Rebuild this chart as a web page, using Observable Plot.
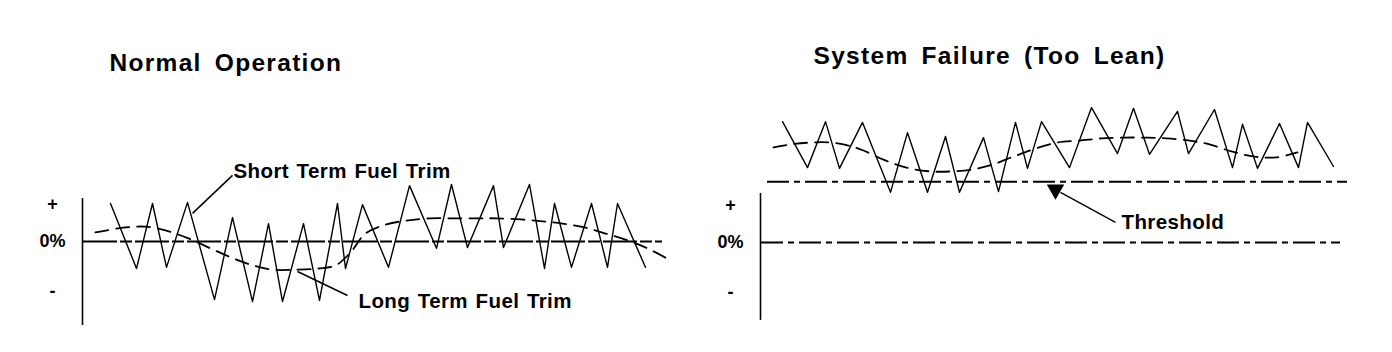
<!DOCTYPE html>
<html>
<head>
<meta charset="utf-8">
<script src="https://cdn.jsdelivr.net/npm/d3@7"></script>
<script src="https://cdn.jsdelivr.net/npm/@observablehq/plot@0.6"></script>
<style>
  body { margin: 0; background: #fff; }
  #wrap { display: flex; width: 1392px; height: 352px; overflow: hidden; }
</style>
</head>
<body>
<div id="wrap"></div>
<script>
// ---------- Data ----------
const titles = ["Normal Operation", "System Failure (Too Lean)"];

const yTickValuesLeft = [9.9, 0, -13.2];
const yTickValuesRight = [9.9, 0, -13.0];
const yTickLabels = ["+", "0%", "-"];

// Normal operation: short term fuel trim (sawtooth)
const normalShortTime = [28,54,70,84,105,132,150,170,186,200,221,237,255,263,280,306,327,354,369,385,411,421,447,462,472,489,509,525,535,563];
const normalShortValue = [10.0,-7.1,10.0,-6.8,10.3,-15.3,6.3,-15.8,4.7,-15.8,4.7,-15.5,10.0,-7.1,9.7,-6.8,14.7,-1.8,15.0,-1.6,14.7,-1.6,15.0,-7.1,10.0,-6.8,10.0,-6.8,10.0,-6.8];

// Normal operation: long term fuel trim (dashed)
const normalLongTime = [13,43,63,83,106,128,146,168,190,215,236,253,268,283,304,324,348,371,395,413,438,460,480,502,523,545,565,586];
const normalLongValue = [2.4,3.7,3.9,2.9,0.8,-1.8,-3.9,-6.1,-7.4,-7.4,-7.1,-6.3,-2.9,2.1,4.5,5.5,6.1,6.1,6.1,6.1,5.8,5.3,4.7,3.7,2.1,0.3,-1.8,-4.7];

// System failure: short term fuel trim
const failShortTime = [22,47,65,79,102,130,147,167,185,199,223,238,255,267,281,309,331,357,373,389,417,428,454,472,482,497,519,538,547,573];
const failShortValue = [31.8,19.7,31.8,19.5,31.6,13.2,28.9,13.2,27.9,13.2,27.6,13.4,31.6,19.5,31.8,19.7,35.5,23.4,35.3,23.2,34.5,23.4,35.0,19.7,31.1,19.5,31.3,19.7,31.6,20.0];

// System failure: long term fuel trim
const failLongTime = [13,30,50,70,88,103,123,146,170,191,212,232,253,275,297,319,341,364,387,406,429,449,472,494,516,537];
const failLongValue = [25.0,25.8,26.3,26.3,25.5,24.2,21.8,19.7,18.7,18.7,19.2,20.5,22.6,24.7,26.3,26.8,27.4,27.6,27.6,27.4,26.8,25.8,23.9,22.6,22.4,23.7];

// Reference levels
const thresholdValue = 16.0;
const thresholdSpan = [7, 587];
const zeroSpan = [1, 580];
const leftAxisSpan = [-22.1, 11.3];
const rightAxisSpan = [-20.5, 12.9];

// Annotations (anchors in data units)
const leftLabels = [
  {text: "Short Term Fuel Trim", t: 151, v: 18.5, fromT: 110, fromV: 7.4, toT: 150, toV: 17.4},
  {text: "Long Term Fuel Trim", t: 276, v: -15.7, fromT: 215, fromV: -7.9, toT: 265, toV: -14.2}
];
const rightLabels = [
  {text: "Threshold", t: 361, v: 5.4, fromT: 355, fromV: 5.3, toT: 300, toV: 13.2, headT: 295, headV: 13.9}
];

// ---------- Helpers ----------
const zipSeries = (ts, vs) => ts.map((t, i) => ({t, v: vs[i]}));
const font = "'Liberation Sans', Arial, Helvetica, sans-serif";
const dashDot = "22,5,6,5";

function panel({title, titleDx, titleDy, marginLeft, marginRight, yDomain, ticks, shortS, longS, axisSpan, zeroDash, extra}) {
  const labelMap = new Map(ticks.map((d, i) => [d, yTickLabels[i]]));
  return Plot.plot({
    width: 696,
    height: 352,
    marginTop: 0,
    marginBottom: 0,
    marginLeft,
    marginRight,
    x: {domain: [0, 590], axis: null},
    y: {domain: yDomain},
    style: {fontFamily: font, background: "#fff", color: "#000", overflow: "visible"},
    marks: [
      Plot.axisY({ticks, tickFormat: d => labelMap.get(d), tickSize: 0, tickPadding: 30,
                  textAnchor: "middle", fontSize: 18, fontWeight: "bold", fill: "#000"}),
      Plot.ruleX([0], {y1: axisSpan[0], y2: axisSpan[1], stroke: "#000", strokeWidth: 1.6}),
      Plot.ruleY([0], {x1: zeroSpan[0], x2: zeroSpan[1], stroke: "#000", strokeWidth: 2, strokeDasharray: zeroDash}),
      Plot.line(longS, {x: "t", y: "v", curve: "catmull-rom", stroke: "#000", strokeWidth: 1.8, strokeDasharray: "13,8"}),
      Plot.line(shortS, {x: "t", y: "v", stroke: "#000", strokeWidth: 1.4}),
      ...extra,
      Plot.text([title], {text: d => d, frameAnchor: "top-left", dx: titleDx, dy: titleDy, lineAnchor: "bottom",
                          textAnchor: "start", fontSize: 24.5, fontWeight: "bold", fill: "#000"})
    ]
  });
}

const leftExtra = [
  Plot.link(leftLabels, {x1: "fromT", y1: "fromV", x2: "toT", y2: "toV", stroke: "#000", strokeWidth: 1.5}),
  Plot.text(leftLabels, {x: "t", y: "v", text: "text", textAnchor: "start", lineAnchor: "middle",
                         fontSize: 20.5, fontWeight: "bold", fill: "#000"})
];

const rightExtra = [
  Plot.ruleY([thresholdValue], {x1: thresholdSpan[0], x2: thresholdSpan[1], stroke: "#000", strokeWidth: 2, strokeDasharray: dashDot}),
  Plot.link(rightLabels, {x1: "fromT", y1: "fromV", x2: "toT", y2: "toV", stroke: "#000", strokeWidth: 1.3}),
  Plot.dot(rightLabels, {x: "headT", y: "headV", symbol: "triangle", r: 6.5, rotate: -60, fill: "#000", stroke: "none"}),
  Plot.text(rightLabels, {x: "t", y: "v", text: "text", textAnchor: "start", lineAnchor: "middle",
                          fontSize: 20.5, fontWeight: "bold", fill: "#000"})
];

const left = panel({
  title: titles[0], titleDx: 27, titleDy: 70,
  marginLeft: 82, marginRight: 24,
  yDomain: [-29.21, 63.42],
  ticks: yTickValuesLeft,
  shortS: zipSeries(normalShortTime, normalShortValue),
  longS: zipSeries(normalLongTime, normalLongValue),
  axisSpan: leftAxisSpan,
  zeroDash: "34,3,12,3",
  extra: leftExtra
});

const right = panel({
  title: titles[1], titleDx: 53, titleDy: 63,
  marginLeft: 64, marginRight: 42,
  yDomain: [-28.95, 63.68],
  ticks: yTickValuesRight,
  shortS: zipSeries(failShortTime, failShortValue),
  longS: zipSeries(failLongTime, failLongValue),
  axisSpan: rightAxisSpan,
  zeroDash: dashDot,
  extra: rightExtra
});

const wrap = document.getElementById("wrap");
wrap.appendChild(left);
wrap.appendChild(right);

// Typographic spacing to match the reference lettering
const annotationTexts = new Set([...leftLabels, ...rightLabels].map(d => d.text));
d3.select(wrap).selectAll("svg text").each(function () {
  const s = this.textContent;
  if (titles.includes(s)) {
    d3.select(this).style("letter-spacing", "1.3px").style("word-spacing", "5px");
  } else if (annotationTexts.has(s)) {
    d3.select(this).style("letter-spacing", "0.4px").style("word-spacing", "1.5px");
  }
});
</script>
</body>
</html>
